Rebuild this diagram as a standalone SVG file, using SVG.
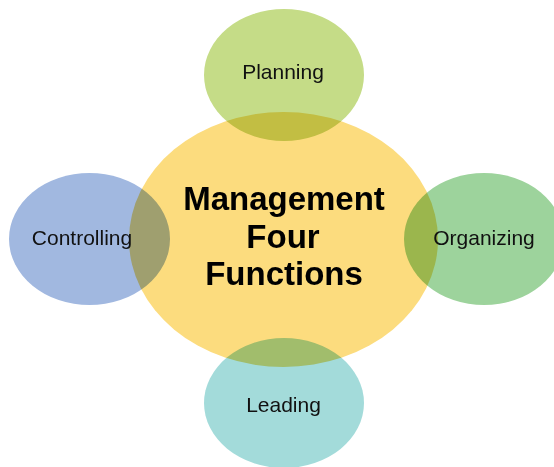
<svg xmlns="http://www.w3.org/2000/svg" width="554" height="467" viewBox="0 0 554 467">
  <style>
    .blob { mix-blend-mode: multiply; }
    .label { font-family: "Liberation Sans", Arial, sans-serif; font-size: 21px; fill: #111; text-anchor: middle; }
    .title { font-family: "Liberation Sans", Arial, sans-serif; font-size: 33px; font-weight: bold; fill: #000; text-anchor: middle; }
  </style>
  <rect width="554" height="467" fill="#ffffff"/>

  <!-- centre hub -->
  <g id="management">
    <ellipse class="blob" cx="283.5" cy="239.5" rx="154.5" ry="127.5" fill="#FCDC7E"/>
  </g>

  <!-- the four functions around the hub -->
  <g id="planning">
    <ellipse class="blob" cx="284" cy="75" rx="80" ry="66" fill="#C5DC87"/>
    <text class="label" x="283" y="79">Planning</text>
  </g>
  <g id="controlling">
    <ellipse class="blob" cx="89.5" cy="239" rx="80.5" ry="66" fill="#A1B8E0"/>
    <text class="label" x="82" y="245">Controlling</text>
  </g>
  <g id="organizing">
    <ellipse class="blob" cx="484" cy="239" rx="80" ry="66" fill="#9DD39C"/>
    <text class="label" x="484" y="245">Organizing</text>
  </g>
  <g id="leading">
    <ellipse class="blob" cx="284" cy="403" rx="80" ry="65" fill="#A3DBDA"/>
    <text class="label" x="283.5" y="412">Leading</text>
  </g>

  <!-- hub caption -->
  <g id="management-label">
    <text class="title" x="284" y="210">Management</text>
    <text class="title" x="283" y="248">Four</text>
    <text class="title" x="284" y="285">Functions</text>
  </g>
</svg>
